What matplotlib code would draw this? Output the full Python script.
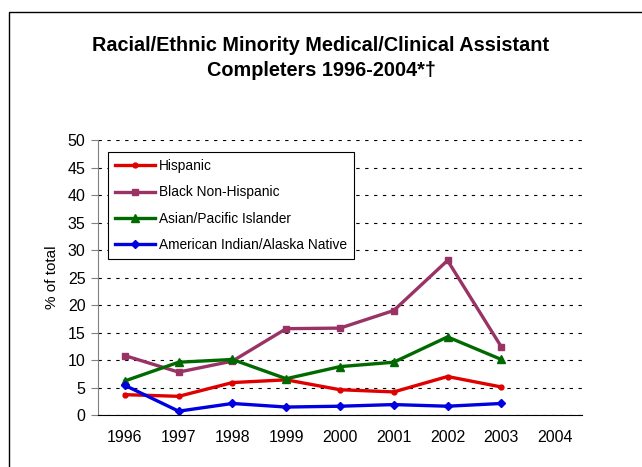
import matplotlib.pyplot as plt
from matplotlib.patches import Rectangle

plt.rcParams["font.family"] = ["Liberation Sans", "DejaVu Sans"]

years = ["1996", "1997", "1998", "1999", "2000", "2001", "2002", "2003", "2004"]
hispanic = [3.7, 3.4, 5.9, 6.4, 4.6, 4.2, 7.0, 5.1]
black = [10.8, 7.8, 9.8, 15.7, 15.8, 19.0, 28.1, 12.4]
asian = [6.2, 9.6, 10.1, 6.6, 8.8, 9.6, 14.2, 10.1]
amind = [5.4, 0.7, 2.1, 1.45, 1.6, 1.9, 1.6, 2.1]

fig = plt.figure(figsize=(6.42, 4.67), dpi=100, facecolor="w")
ax = fig.add_axes([0.1526, 0.1113, 0.7539, 0.5889])

# outer frame of the chart object
fig.patches.append(Rectangle((9 / 642, -0.1), 1.2, 1 - 12 / 467 + 0.1,
                             transform=fig.transFigure, fill=False,
                             edgecolor="black", linewidth=1.0))

x = list(range(len(hispanic)))
ax.plot(x, hispanic, color="#e00000", lw=2.4, marker="o", ms=3.5, label="Hispanic")
ax.plot(x, black, color="#993366", lw=2.4, marker="s", ms=5, label="Black Non-Hispanic")
ax.plot(x, asian, color="#006a00", lw=2.4, marker="^", ms=5.5, label="Asian/Pacific Islander")
ax.plot(x, amind, color="#0000e0", lw=2.4, marker="D", ms=4.5, label="American Indian/Alaska Native")

ax.set_xlim(-0.5, len(years) - 0.5)
ax.set_ylim(0, 50)
ax.set_xticks(range(len(years)))
ax.set_xticklabels(years)
ax.set_yticks(range(0, 51, 5))
ax.tick_params(axis="x", length=0, labelsize=11.5, pad=11)
ax.tick_params(axis="y", length=5, labelsize=11.5, color="#808080", pad=4)
ax.yaxis.grid(True, linestyle=(0, (3, 5)), color="black", lw=0.8)
ax.set_axisbelow(True)
for s in ["top", "right"]:
    ax.spines[s].set_visible(False)
ax.spines["left"].set_color("#808080")
ax.spines["bottom"].set_color("black")
ax.set_ylabel("% of total", fontsize=11, labelpad=6)

leg = ax.legend(loc="upper left", bbox_to_anchor=(0.021, 0.956), fontsize=9.9,
                fancybox=False, edgecolor="black", framealpha=1,
                handlelength=2.9, labelspacing=0.9, borderpad=0.5, handletextpad=0.3,
                borderaxespad=0)
leg.get_frame().set_linewidth(0.8)

fig.text(0.5, 1 - 58 / 467, "Racial/Ethnic Minority Medical/Clinical Assistant\nCompleters 1996-2004*\u2020",
         ha="center", va="center", fontsize=14.3, fontweight="bold", linespacing=1.42)

plt.savefig("out.png", dpi=100)
